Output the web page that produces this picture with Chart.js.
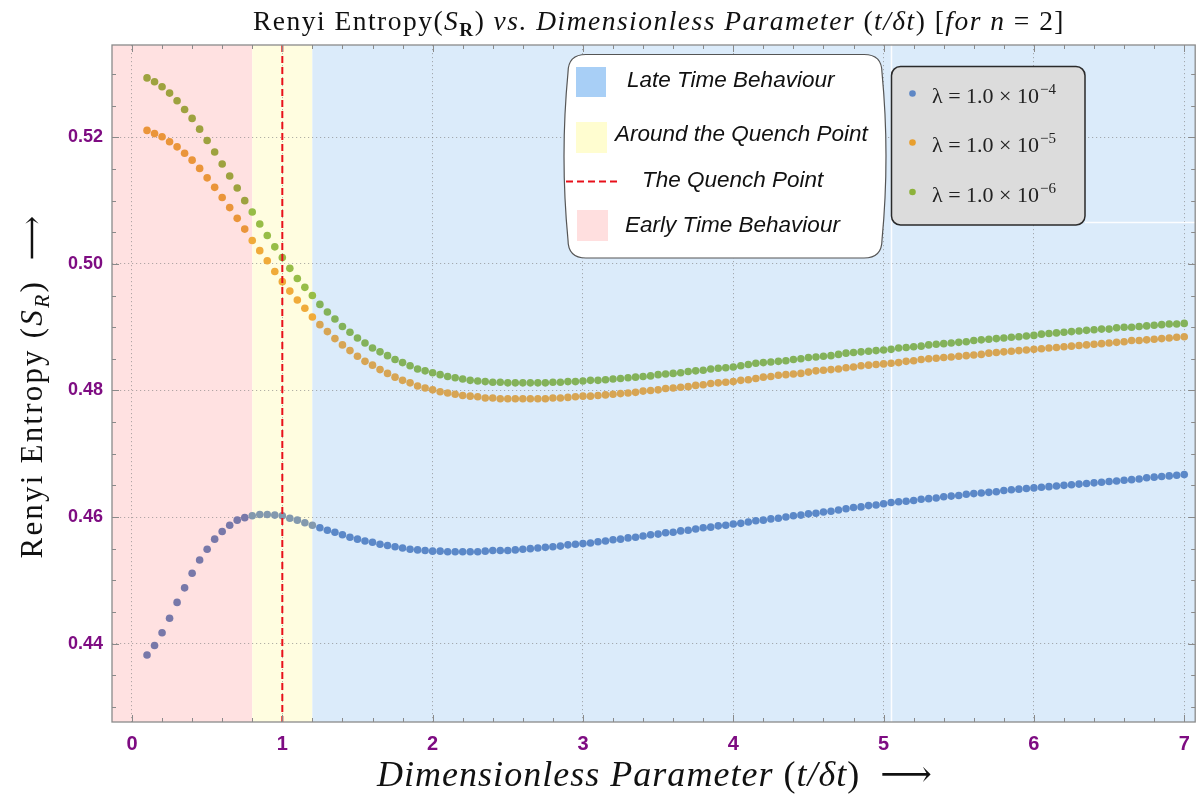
<!DOCTYPE html>
<html>
<head>
<meta charset="utf-8">
<title>Renyi Entropy vs Dimensionless Parameter</title>
<script src="https://cdn.jsdelivr.net/npm/chart.js@4.4.1/dist/chart.umd.min.js"></script>
<style>
  html, body { margin: 0; padding: 0; background: #ffffff; }
  #wrap { width: 1199px; height: 798px; }
</style>
</head>
<body>
<div id="wrap"><canvas id="chart" width="1199" height="798"></canvas></div>
<script>
// ----------------------
// Data
// ----------------------
const tValues = [
  0.1, 0.15, 0.2, 0.25, 0.3, 0.35, 0.4, 0.45, 0.5, 0.55, 0.6, 0.65, 0.7, 0.75, 0.8, 0.85, 0.9, 0.95,
  1.0, 1.05, 1.1, 1.15, 1.2, 1.25, 1.3, 1.35, 1.4, 1.45, 1.5, 1.55, 1.6, 1.65, 1.7, 1.75, 1.8, 1.85, 1.9, 1.95,
  2.0, 2.05, 2.1, 2.15, 2.2, 2.25, 2.3, 2.35, 2.4, 2.45, 2.5, 2.55, 2.6, 2.65, 2.7, 2.75, 2.8, 2.85, 2.9, 2.95,
  3.0, 3.05, 3.1, 3.15, 3.2, 3.25, 3.3, 3.35, 3.4, 3.45, 3.5, 3.55, 3.6, 3.65, 3.7, 3.75, 3.8, 3.85, 3.9, 3.95,
  4.0, 4.05, 4.1, 4.15, 4.2, 4.25, 4.3, 4.35, 4.4, 4.45, 4.5, 4.55, 4.6, 4.65, 4.7, 4.75, 4.8, 4.85, 4.9, 4.95,
  5.0, 5.05, 5.1, 5.15, 5.2, 5.25, 5.3, 5.35, 5.4, 5.45, 5.5, 5.55, 5.6, 5.65, 5.7, 5.75, 5.8, 5.85, 5.9, 5.95,
  6.0, 6.05, 6.1, 6.15, 6.2, 6.25, 6.3, 6.35, 6.4, 6.45, 6.5, 6.55, 6.6, 6.65, 6.7, 6.75, 6.8, 6.85, 6.9, 6.95,
  7.0
];

// lambda = 1.0 x 10^-4
const entropyLambda4 = [
  0.4382, 0.4397, 0.4417, 0.4440, 0.4465, 0.4488, 0.4511, 0.4532, 0.4549, 0.4565,
  0.4577, 0.4587, 0.4595, 0.4599, 0.4602, 0.4604, 0.4604, 0.4603, 0.4602, 0.4598,
  0.4595, 0.4591, 0.4587, 0.4583, 0.4579, 0.4576, 0.4572, 0.4568, 0.4565, 0.4562,
  0.4560, 0.4557, 0.4555, 0.4553, 0.4551, 0.4549, 0.4548, 0.4547, 0.4546, 0.4546,
  0.4545, 0.4545, 0.4545, 0.4545, 0.4545, 0.4546, 0.4547, 0.4547, 0.4547, 0.4548,
  0.4549, 0.4550, 0.4551, 0.4552, 0.4553, 0.4554, 0.4556, 0.4557, 0.4558, 0.4559,
  0.4561, 0.4562, 0.4564, 0.4565, 0.4567, 0.4568, 0.4570, 0.4572, 0.4573, 0.4575,
  0.4576, 0.4578, 0.4579, 0.4581, 0.4583, 0.4584, 0.4586, 0.4587, 0.4589, 0.4590,
  0.4592, 0.4594, 0.4595, 0.4597, 0.4598, 0.4600, 0.4602, 0.4603, 0.4605, 0.4606,
  0.4608, 0.4609, 0.4611, 0.4613, 0.4615, 0.4616, 0.4618, 0.4619, 0.4621, 0.4623,
  0.4624, 0.4625, 0.4626, 0.4628, 0.4629, 0.4630, 0.4632, 0.4633, 0.4634, 0.4636,
  0.4637, 0.4638, 0.4639, 0.4640, 0.4642, 0.4643, 0.4644, 0.4645, 0.4646, 0.4647,
  0.4648, 0.4649, 0.4650, 0.4651, 0.4652, 0.4653, 0.4654, 0.4655, 0.4656, 0.4657,
  0.4658, 0.4659, 0.4660, 0.4662, 0.4663, 0.4664, 0.4665, 0.4666, 0.4667
];

// lambda = 1.0 x 10^-5
const entropyLambda5 = [
  0.5211, 0.5206, 0.5201, 0.5193, 0.5185, 0.5175, 0.5164, 0.5151, 0.5136, 0.5121,
  0.5105, 0.5089, 0.5072, 0.5055, 0.5037, 0.5021, 0.5005, 0.4988, 0.4972, 0.4957,
  0.4943, 0.4930, 0.4916, 0.4904, 0.4893, 0.4882, 0.4872, 0.4863, 0.4854, 0.4846,
  0.4840, 0.4833, 0.4827, 0.4821, 0.4816, 0.4812, 0.4807, 0.4804, 0.4801, 0.4798,
  0.4796, 0.4794, 0.4792, 0.4791, 0.4790, 0.4788, 0.4788, 0.4787, 0.4787, 0.4787,
  0.4787, 0.4787, 0.4787, 0.4787, 0.4788, 0.4788, 0.4789, 0.4790, 0.4791, 0.4791,
  0.4792, 0.4793, 0.4794, 0.4795, 0.4796, 0.4797, 0.4799, 0.4800, 0.4801, 0.4803,
  0.4804, 0.4805, 0.4806, 0.4808, 0.4809, 0.4811, 0.4812, 0.4813, 0.4814, 0.4816,
  0.4817, 0.4819, 0.4821, 0.4822, 0.4824, 0.4825, 0.4826, 0.4827, 0.4829, 0.4831,
  0.4832, 0.4833, 0.4834, 0.4836, 0.4837, 0.4839, 0.4840, 0.4841, 0.4842, 0.4843,
  0.4844, 0.4846, 0.4847, 0.4849, 0.4850, 0.4851, 0.4852, 0.4853, 0.4854, 0.4855,
  0.4856, 0.4857, 0.4859, 0.4860, 0.4861, 0.4862, 0.4863, 0.4864, 0.4865, 0.4866,
  0.4867, 0.4868, 0.4869, 0.4870, 0.4871, 0.4872, 0.4873, 0.4874, 0.4875, 0.4876,
  0.4877, 0.4879, 0.4879, 0.4880, 0.4881, 0.4882, 0.4883, 0.4884, 0.4885
];

// lambda = 1.0 x 10^-6
const entropyLambda6 = [
  0.5294, 0.5288, 0.5280, 0.5270, 0.5258, 0.5244, 0.5230, 0.5213, 0.5195, 0.5177,
  0.5158, 0.5139, 0.5120, 0.5100, 0.5082, 0.5063, 0.5045, 0.5027, 0.5010, 0.4993,
  0.4977, 0.4963, 0.4950, 0.4936, 0.4924, 0.4913, 0.4901, 0.4892, 0.4883, 0.4875,
  0.4867, 0.4861, 0.4855, 0.4849, 0.4844, 0.4839, 0.4834, 0.4831, 0.4828, 0.4825,
  0.4822, 0.4820, 0.4818, 0.4816, 0.4815, 0.4814, 0.4813, 0.4813, 0.4812, 0.4812,
  0.4812, 0.4812, 0.4812, 0.4812, 0.4813, 0.4813, 0.4814, 0.4814, 0.4815, 0.4816,
  0.4816, 0.4817, 0.4818, 0.4819, 0.4820, 0.4821, 0.4822, 0.4823, 0.4825, 0.4826,
  0.4827, 0.4828, 0.4830, 0.4831, 0.4832, 0.4834, 0.4835, 0.4836, 0.4837, 0.4839,
  0.4841, 0.4843, 0.4844, 0.4845, 0.4846, 0.4847, 0.4849, 0.4850, 0.4852, 0.4853,
  0.4854, 0.4855, 0.4857, 0.4859, 0.4860, 0.4861, 0.4862, 0.4863, 0.4864, 0.4865,
  0.4867, 0.4868, 0.4869, 0.4870, 0.4872, 0.4873, 0.4874, 0.4875, 0.4876, 0.4877,
  0.4879, 0.4880, 0.4881, 0.4882, 0.4883, 0.4884, 0.4885, 0.4886, 0.4887, 0.4889,
  0.4890, 0.4891, 0.4892, 0.4893, 0.4894, 0.4895, 0.4896, 0.4897, 0.4897, 0.4899,
  0.4900, 0.4900, 0.4901, 0.4902, 0.4903, 0.4904, 0.4905, 0.4905, 0.4906
];

const lambdaExponents = ["\u22124", "\u22125", "\u22126"];
const regionLabels = ["Late Time Behaviour", "Around the Quench Point", "The Quench Point", "Early Time Behaviour"];

// axes
const xMajorTicks = [0, 1, 2, 3, 4, 5, 6, 7];
const xMinorTicks = [
  0.2, 0.4, 0.6, 0.8, 1.2, 1.4, 1.6, 1.8, 2.2, 2.4, 2.6, 2.8, 3.2, 3.4, 3.6, 3.8,
  4.2, 4.4, 4.6, 4.8, 5.2, 5.4, 5.6, 5.8, 6.2, 6.4, 6.6, 6.8
];
const yMajorTicks = [0.44, 0.46, 0.48, 0.50, 0.52];
const yMinorTicks = [0.43, 0.435, 0.445, 0.45, 0.455, 0.465, 0.47, 0.475, 0.485, 0.49, 0.495, 0.505, 0.51, 0.515, 0.525, 0.53];

// time regions
const earlyEnd = 0.8;
const lateStart = 1.2;
const quenchPoint = 1.0;

// ----------------------
// Styles
// ----------------------
const SERIF = '"Liberation Serif", "DejaVu Serif", serif';
const SANS = '"Liberation Sans", Arial, sans-serif';
const PURPLE = "#7e0c82";

const regionFill = { early: "#ffe1e1", quench: "#fffde0", late: "#dbebfa" };
// dot colours as they appear over pink / yellow / blue backgrounds
const dotColors = [
  ["#7878a9", "#8399ae", "#5b88c8"],
  ["#ea953a", "#f0ab3a", "#d7a554"],
  ["#9ea23f", "#97bd47", "#83b25a"]
];
const legendDots = ["#5e87c5", "#e89f2e", "#8db23b"];

function pointColor(series) {
  return ctx => {
    const t = ctx.raw ? ctx.raw.x : 2;
    if (t < earlyEnd) return dotColors[series][0];
    if (t <= lateStart) return dotColors[series][1];
    return dotColors[series][2];
  };
}

function toPoints(values) {
  return tValues.map((t, i) => ({ x: t, y: values[i] }));
}

// ----------------------
// Text helpers
// ----------------------
function partFont(p, size) {
  const s = size * (p.s || 1);
  if (p.f === "it") return `italic ${s}px ${SERIF}`;
  if (p.f === "bd") return `bold ${s}px ${SERIF}`;
  return `${s}px ${SERIF}`;
}

// draws text made of several font parts, spread to targetWidth
function drawRich(ctx, parts, cx, baseline, size, targetWidth) {
  let w = 0, n = 0;
  parts.forEach(p => {
    ctx.font = partFont(p, size);
    w += ctx.measureText(p.t).width;
    n += p.t.length;
  });
  const gap = targetWidth ? Math.max(0, (targetWidth - w) / n) : 0;
  let x = cx - (w + gap * n) / 2;
  ctx.textAlign = "left";
  ctx.textBaseline = "alphabetic";
  parts.forEach(p => {
    ctx.font = partFont(p, size);
    for (const ch of p.t) {
      ctx.fillText(ch, x, baseline + (p.dy || 0) * size);
      x += ctx.measureText(ch).width + gap;
    }
  });
}

function bubbleBox(ctx, l, t, r, b, rad, bow) {
  ctx.beginPath();
  ctx.moveTo(l + rad, t);
  ctx.lineTo(r - rad, t);
  ctx.quadraticCurveTo(r, t, r, t + rad);
  ctx.quadraticCurveTo(r + bow, (t + b) / 2, r, b - rad);
  ctx.quadraticCurveTo(r, b, r - rad, b);
  ctx.lineTo(l + rad, b);
  ctx.quadraticCurveTo(l, b, l, b - rad);
  ctx.quadraticCurveTo(l - bow, (t + b) / 2, l, t + rad);
  ctx.quadraticCurveTo(l, t, l + rad, t);
  ctx.closePath();
}

// ----------------------
// Plugins
// ----------------------
const backdrop = {
  id: "backdrop",
  beforeDraw(chart) {
    const { ctx, chartArea: a, scales: { x } } = chart;
    const x1 = x.getPixelForValue(earlyEnd);
    const x2 = x.getPixelForValue(lateStart);
    ctx.save();
    ctx.fillStyle = "#ffffff";
    ctx.fillRect(0, 0, chart.width, chart.height);
    ctx.fillStyle = regionFill.early;
    ctx.fillRect(a.left, a.top, x1 - a.left, a.bottom - a.top);
    ctx.fillStyle = regionFill.quench;
    ctx.fillRect(x1, a.top, x2 - x1, a.bottom - a.top);
    ctx.fillStyle = regionFill.late;
    ctx.fillRect(x2, a.top, a.right - x2, a.bottom - a.top);
    ctx.restore();
  },
  beforeDatasetsDraw(chart) {
    const { ctx, chartArea: a } = chart;
    // seams left by the pasted legend
    ctx.save();
    ctx.strokeStyle = "rgba(255,255,255,0.9)";
    ctx.lineWidth = 1.5;
    ctx.beginPath();
    ctx.moveTo(891.5, a.top);
    ctx.lineTo(891.5, a.bottom);
    ctx.moveTo(1085, 222.5);
    ctx.lineTo(a.right, 222.5);
    ctx.stroke();
    ctx.restore();
  }
};

const frame = {
  id: "frame",
  afterDatasetsDraw(chart) {
    const { ctx, chartArea: a, scales: { x, y } } = chart;
    ctx.save();

    // quench point
    const xq = x.getPixelForValue(quenchPoint);
    ctx.strokeStyle = "#e8101a";
    ctx.lineWidth = 2;
    ctx.setLineDash([7, 4]);
    ctx.beginPath();
    ctx.moveTo(xq, a.top);
    ctx.lineTo(xq, a.bottom);
    ctx.stroke();
    ctx.setLineDash([]);

    // frame and inward ticks
    ctx.strokeStyle = "#8a8a8a";
    ctx.lineWidth = 1.3;
    ctx.strokeRect(a.left, a.top, a.right - a.left, a.bottom - a.top);
    ctx.lineWidth = 1;
    ctx.beginPath();
    const xt = (v, len) => {
      const px = Math.round(x.getPixelForValue(v)) + 0.5;
      ctx.moveTo(px, a.bottom); ctx.lineTo(px, a.bottom - len);
      ctx.moveTo(px, a.top); ctx.lineTo(px, a.top + len);
    };
    const yt = (v, len) => {
      const py = Math.round(y.getPixelForValue(v)) + 0.5;
      ctx.moveTo(a.left, py); ctx.lineTo(a.left + len, py);
      ctx.moveTo(a.right, py); ctx.lineTo(a.right - len, py);
    };
    xMajorTicks.forEach(v => xt(v, 7));
    xMinorTicks.forEach(v => xt(v, 4));
    yMajorTicks.forEach(v => yt(v, 7));
    yMinorTicks.forEach(v => yt(v, 4));
    ctx.stroke();
    ctx.restore();
  },
  afterDraw(chart) {
    const { ctx } = chart;
    ctx.save();
    ctx.fillStyle = "#111111";

    // title
    drawRich(ctx, [
      { t: "Renyi Entropy(", f: "up" }, { t: "S", f: "it" }, { t: "R", f: "bd", s: 0.7, dy: 0.22 },
      { t: ") ", f: "up" }, { t: "vs. Dimensionless Parameter ", f: "it" }, { t: "(", f: "up" },
      { t: "t/\u03b4t", f: "it" }, { t: ") [", f: "up" }, { t: "for n", f: "it" }, { t: " = 2]", f: "up" }
    ], 659, 30, 27.5, 812);

    // x title
    drawRich(ctx, [
      { t: "Dimensionless Parameter ", f: "it" }, { t: "(", f: "up" },
      { t: "t/\u03b4t", f: "it" }, { t: ")  \u27f6", f: "up" }
    ], 655, 786, 36, 556);

    // y title
    ctx.save();
    ctx.translate(42, 386);
    ctx.rotate(-Math.PI / 2);
    drawRich(ctx, [
      { t: "Renyi Entropy ", f: "up" }, { t: "(", f: "up" }, { t: "S", f: "it" },
      { t: "R", f: "it", s: 0.7, dy: 0.22 }, { t: ")  \u27f6", f: "up" }
    ], 0, 0, 31, 345);
    ctx.restore();

    // region legend
    bubbleBox(ctx, 568, 54.5, 882, 258, 18, 8);
    ctx.fillStyle = "#ffffff";
    ctx.fill();
    ctx.strokeStyle = "#555555";
    ctx.lineWidth = 1.2;
    ctx.stroke();

    ctx.fillStyle = "#a8cff6";
    ctx.fillRect(576, 67, 30, 30);
    ctx.fillStyle = "#fffdd0";
    ctx.fillRect(576, 122, 31, 31);
    ctx.fillStyle = "#ffdfdf";
    ctx.fillRect(577, 210, 31, 31);
    ctx.strokeStyle = "#e8101a";
    ctx.lineWidth = 2;
    ctx.setLineDash([7, 4]);
    ctx.beginPath();
    ctx.moveTo(566, 181.5);
    ctx.lineTo(617, 181.5);
    ctx.stroke();
    ctx.setLineDash([]);

    ctx.fillStyle = "#111111";
    ctx.font = `italic 22.5px ${SANS}`;
    ctx.textAlign = "left";
    ctx.textBaseline = "middle";
    ctx.fillText(regionLabels[0], 627, 81);
    ctx.fillText(regionLabels[1], 615, 135);
    ctx.fillText(regionLabels[2], 642, 181);
    ctx.fillText(regionLabels[3], 625, 226);

    // lambda legend
    ctx.beginPath();
    ctx.roundRect(891.5, 66.5, 193.5, 158.5, 9);
    ctx.fillStyle = "#dcdcdc";
    ctx.fill();
    ctx.strokeStyle = "#2a2a2a";
    ctx.lineWidth = 1.5;
    ctx.stroke();

    const rows = [103, 152, 201.5];
    rows.forEach((base, i) => {
      ctx.fillStyle = legendDots[i];
      ctx.beginPath();
      ctx.arc(912.5, base - 9.5, 3.3, 0, Math.PI * 2);
      ctx.fill();
      ctx.fillStyle = "#222222";
      ctx.textBaseline = "alphabetic";
      ctx.font = `22px ${SERIF}`;
      const main = "\u03bb = 1.0 \u00d7 10";
      ctx.fillText(main, 932, base);
      const w = ctx.measureText(main).width;
      ctx.font = `15px ${SERIF}`;
      ctx.fillText(lambdaExponents[i], 932 + w + 1, base - 9);
    });

    ctx.restore();
  }
};

// ----------------------
// Chart
// ----------------------
const chart = new Chart(document.getElementById("chart"), {
  type: "scatter",
  data: {
    datasets: [
      { label: "lambda 1e-4", data: toPoints(entropyLambda4), pointBackgroundColor: pointColor(0) },
      { label: "lambda 1e-5", data: toPoints(entropyLambda5), pointBackgroundColor: pointColor(1) },
      { label: "lambda 1e-6", data: toPoints(entropyLambda6), pointBackgroundColor: pointColor(2) }
    ]
  },
  options: {
    responsive: false,
    animation: false,
    devicePixelRatio: 1,
    layout: { padding: { top: 45, right: 2, left: 0, bottom: 0 } },
    elements: { point: { radius: 3.8, borderWidth: 0, hoverRadius: 3.8 } },
    plugins: {
      legend: { display: false },
      tooltip: { enabled: false },
      title: { display: false }
    },
    scales: {
      x: {
        type: "linear",
        min: -0.133,
        max: 7.073,
        afterBuildTicks: axis => { axis.ticks = xMajorTicks.map(v => ({ value: v })); },
        afterFit: axis => {
          axis.height = 76;
          axis.paddingLeft = 0;
          axis.paddingRight = 0;
        },
        grid: { color: "rgba(125,125,125,0.6)", lineWidth: 1, drawTicks: false },
        border: { display: false, dash: [1.2, 2.8] },
        ticks: {
          padding: 10,
          color: PURPLE,
          font: { family: '"Liberation Sans Narrow", "Liberation Sans", Arial, sans-serif', weight: "bold", size: 20 },
          callback: v => String(v)
        }
      },
      y: {
        type: "linear",
        min: 0.4276,
        max: 0.5346,
        afterBuildTicks: axis => { axis.ticks = yMajorTicks.map(v => ({ value: v })); },
        afterFit: axis => {
          axis.width = 112;
          axis.paddingTop = 0;
          axis.paddingBottom = 0;
        },
        grid: { color: "rgba(125,125,125,0.6)", lineWidth: 1, drawTicks: false },
        border: { display: false, dash: [1.2, 2.8] },
        ticks: {
          padding: 9,
          color: PURPLE,
          font: { family: SANS, weight: "bold", size: 18 },
          callback: v => v.toFixed(2)
        }
      }
    }
  },
  plugins: [backdrop, frame]
});
</script>
</body>
</html>
